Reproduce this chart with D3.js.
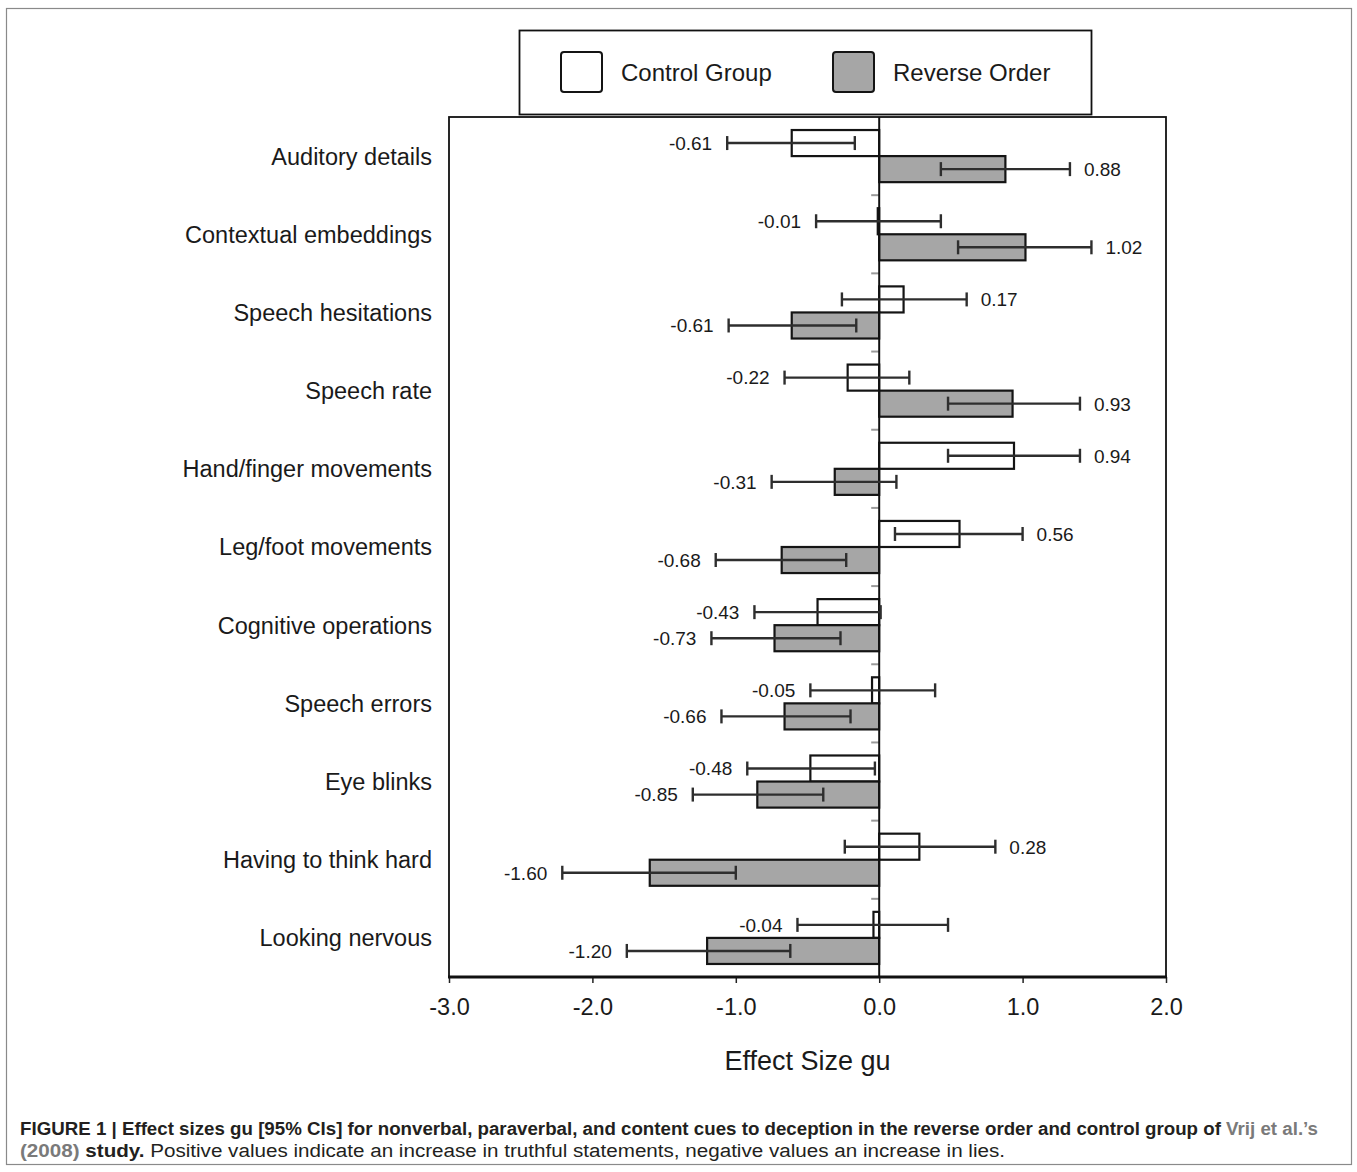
<!DOCTYPE html>
<html>
<head>
<meta charset="utf-8">
<script src="https://cdn.jsdelivr.net/npm/d3@7"></script>
<style>
  body { margin: 0; background: #fff; }
  svg { display: block; font-family: "Liberation Sans", Arial, Helvetica, sans-serif; }
</style>
</head>
<body>
<svg id="chart"></svg>
<script>
const categories = [
  "Auditory details", "Contextual embeddings", "Speech hesitations", "Speech rate",
  "Hand/finger movements", "Leg/foot movements", "Cognitive operations",
  "Speech errors", "Eye blinks", "Having to think hard", "Looking nervous"
];

// Control group: effect size and 95% CI ends
const controlValues = [-0.61, -0.01, 0.17, -0.22, 0.94, 0.56, -0.43, -0.05, -0.48, 0.28, -0.04];
const controlLower  = [-1.06, -0.44, -0.26, -0.66, 0.48, 0.11, -0.87, -0.48, -0.92, -0.24, -0.57];
const controlUpper  = [-0.17, 0.43, 0.61, 0.21, 1.40, 1.00, 0.01, 0.39, -0.03, 0.81, 0.48];

// Reverse order group
const reverseValues = [0.88, 1.02, -0.61, 0.93, -0.31, -0.68, -0.73, -0.66, -0.85, -1.60, -1.20];
const reverseLower  = [0.43, 0.55, -1.05, 0.48, -0.75, -1.14, -1.17, -1.10, -1.30, -2.21, -1.76];
const reverseUpper  = [1.33, 1.48, -0.16, 1.40, 0.12, -0.23, -0.27, -0.20, -0.39, -1.00, -0.62];

const xTicks = [-3, -2, -1, 0, 1, 2];
const seriesNames = ["Control Group", "Reverse Order"];

const width = 1357, height = 1172;
const margin = { top: 117, right: 191, bottom: 195, left: 449 };

// plain hyphen for negatives, like the original figure
const locale = d3.formatLocale({ decimal: ".", thousands: ",", grouping: [3], currency: ["", ""], minus: "-" });
const fmt2 = locale.format(".2f");
const fmt1 = locale.format(".1f");

const svg = d3.select("#chart").attr("width", width).attr("height", height);

// outer figure frame
svg.append("rect")
  .attr("x", 6.5).attr("y", 8.5)
  .attr("width", 1345).attr("height", 1156)
  .attr("fill", "none").attr("stroke", "#8a8a8a").attr("stroke-width", 1.2);

const x = d3.scaleLinear()
  .domain([-3, 2])
  .range([margin.left, width - margin.right]);

const y = d3.scaleBand()
  .domain(categories)
  .range([margin.top, height - margin.bottom]);

const bh = y.bandwidth() / 3;

const series = [
  { name: "control", values: controlValues, lower: controlLower, upper: controlUpper, fill: "#ffffff", off: y.bandwidth() / 6 },
  { name: "reverse", values: reverseValues, lower: reverseLower, upper: reverseUpper, fill: "#a6a6a6", off: y.bandwidth() / 2 }
];

const rows = [];
series.forEach(s => {
  categories.forEach((c, i) => {
    rows.push({ cat: c, v: s.values[i], lo: s.lower[i], hi: s.upper[i], fill: s.fill, y0: y(c) + s.off });
  });
});

// plot box
const plotBottom = height - margin.bottom;
svg.append("rect")
  .attr("x", x(-3)).attr("y", margin.top)
  .attr("width", x(2) - x(-3)).attr("height", plotBottom - margin.top)
  .attr("fill", "none").attr("stroke", "#111").attr("stroke-width", 1.8);

// category boundary ticks on the zero line
svg.append("g")
  .selectAll("line")
  .data(categories.slice(1))
  .join("line")
  .attr("x1", x(0) - 8).attr("x2", x(0))
  .attr("y1", d => y(d)).attr("y2", d => y(d))
  .attr("stroke", "#999").attr("stroke-width", 2);

// bars
svg.append("g")
  .selectAll("rect")
  .data(rows)
  .join("rect")
  .attr("x", d => x(Math.min(0, d.v)))
  .attr("width", d => Math.abs(x(d.v) - x(0)))
  .attr("y", d => d.y0)
  .attr("height", bh)
  .attr("fill", d => d.fill)
  .attr("stroke", "#141414")
  .attr("stroke-width", 2.2);

// zero line
svg.append("line")
  .attr("x1", x(0)).attr("x2", x(0))
  .attr("y1", margin.top).attr("y2", plotBottom)
  .attr("stroke", "#111").attr("stroke-width", 2);

// error bars
const eb = svg.append("g").attr("stroke", "#2e2e2e").attr("stroke-width", 2.4);
eb.selectAll(".ci")
  .data(rows)
  .join("line")
  .attr("class", "ci")
  .attr("x1", d => x(d.lo)).attr("x2", d => x(d.hi))
  .attr("y1", d => d.y0 + bh / 2).attr("y2", d => d.y0 + bh / 2);
eb.selectAll(".capL")
  .data(rows)
  .join("line")
  .attr("class", "capL")
  .attr("x1", d => x(d.lo)).attr("x2", d => x(d.lo))
  .attr("y1", d => d.y0 + bh / 2 - 7).attr("y2", d => d.y0 + bh / 2 + 7);
eb.selectAll(".capR")
  .data(rows)
  .join("line")
  .attr("class", "capR")
  .attr("x1", d => x(d.hi)).attr("x2", d => x(d.hi))
  .attr("y1", d => d.y0 + bh / 2 - 7).attr("y2", d => d.y0 + bh / 2 + 7);

// value labels
svg.append("g")
  .selectAll("text")
  .data(rows)
  .join("text")
  .attr("x", d => d.v < 0 ? x(d.lo) - 15 : x(d.hi) + 14)
  .attr("y", d => d.y0 + bh / 2)
  .attr("dy", "0.36em")
  .attr("text-anchor", d => d.v < 0 ? "end" : "start")
  .attr("font-size", 19)
  .attr("fill", "#1a1a1a")
  .text(d => fmt2(d.v));

// category labels
svg.append("g")
  .selectAll("text")
  .data(categories)
  .join("text")
  .attr("x", 432)
  .attr("y", d => y(d) + y.bandwidth() / 2)
  .attr("dy", "0.36em")
  .attr("text-anchor", "end")
  .attr("font-size", 23.5)
  .attr("fill", "#1a1a1a")
  .text(d => d);

// x axis
const xAxis = svg.append("g")
  .attr("transform", `translate(0,${plotBottom})`)
  .call(d3.axisBottom(x).tickValues(xTicks).tickFormat(fmt1).tickSize(6).tickPadding(15));
xAxis.select(".domain").remove();
xAxis.selectAll(".tick line").attr("stroke", "#222").attr("stroke-width", 1.5);
xAxis.selectAll("text")
  .attr("font-size", 23.5)
  .attr("font-family", "Liberation Sans, Arial, sans-serif")
  .attr("fill", "#1a1a1a");

svg.append("line")
  .attr("x1", x(-3) - 1).attr("x2", x(2) + 1)
  .attr("y1", plotBottom).attr("y2", plotBottom)
  .attr("stroke", "#111").attr("stroke-width", 3);

svg.append("text")
  .attr("x", (x(-3) + x(2)) / 2)
  .attr("y", 1070)
  .attr("text-anchor", "middle")
  .attr("font-size", 27)
  .attr("fill", "#1a1a1a")
  .text("Effect Size gu");

// legend
const legend = svg.append("g");
legend.append("rect")
  .attr("x", 519.5).attr("y", 30.5)
  .attr("width", 572).attr("height", 84)
  .attr("fill", "#fff").attr("stroke", "#111").attr("stroke-width", 1.8);

const legendX = [561, 833];
legend.selectAll(".sw")
  .data(seriesNames)
  .join("rect")
  .attr("class", "sw")
  .attr("x", (d, i) => legendX[i]).attr("y", 52)
  .attr("width", 41).attr("height", 40)
  .attr("rx", 3)
  .attr("fill", (d, i) => series[i].fill)
  .attr("stroke", "#141414").attr("stroke-width", 2);
legend.selectAll(".lt")
  .data(seriesNames)
  .join("text")
  .attr("class", "lt")
  .attr("x", (d, i) => legendX[i] + 60)
  .attr("y", 72)
  .attr("dy", "0.36em")
  .attr("font-size", 24)
  .attr("fill", "#1a1a1a")
  .text(d => d);

// caption
const cap = svg.append("g").attr("font-family", "Liberation Sans, Arial, Helvetica, sans-serif").attr("font-size", 18);
const line1 = cap.append("text").attr("x", 20).attr("y", 1135)
  .attr("font-weight", "bold").attr("fill", "#231f20")
  .attr("textLength", 1298).attr("lengthAdjust", "spacingAndGlyphs");
line1.append("tspan").text("FIGURE 1 | Effect sizes gu [95% CIs] for nonverbal, paraverbal, and content cues to deception in the reverse order and control group of ");
line1.append("tspan").attr("fill", "#7a7a7a").text("Vrij et al.\u2019s");

const line2 = cap.append("text").attr("x", 20).attr("y", 1157).attr("fill", "#231f20")
  .attr("textLength", 985).attr("lengthAdjust", "spacingAndGlyphs");
line2.append("tspan").attr("font-weight", "bold").attr("fill", "#7a7a7a").text("(2008)");
line2.append("tspan").attr("font-weight", "bold").text(" study.");
line2.append("tspan").text(" Positive values indicate an increase in truthful statements, negative values an increase in lies.");
</script>
</body>
</html>
